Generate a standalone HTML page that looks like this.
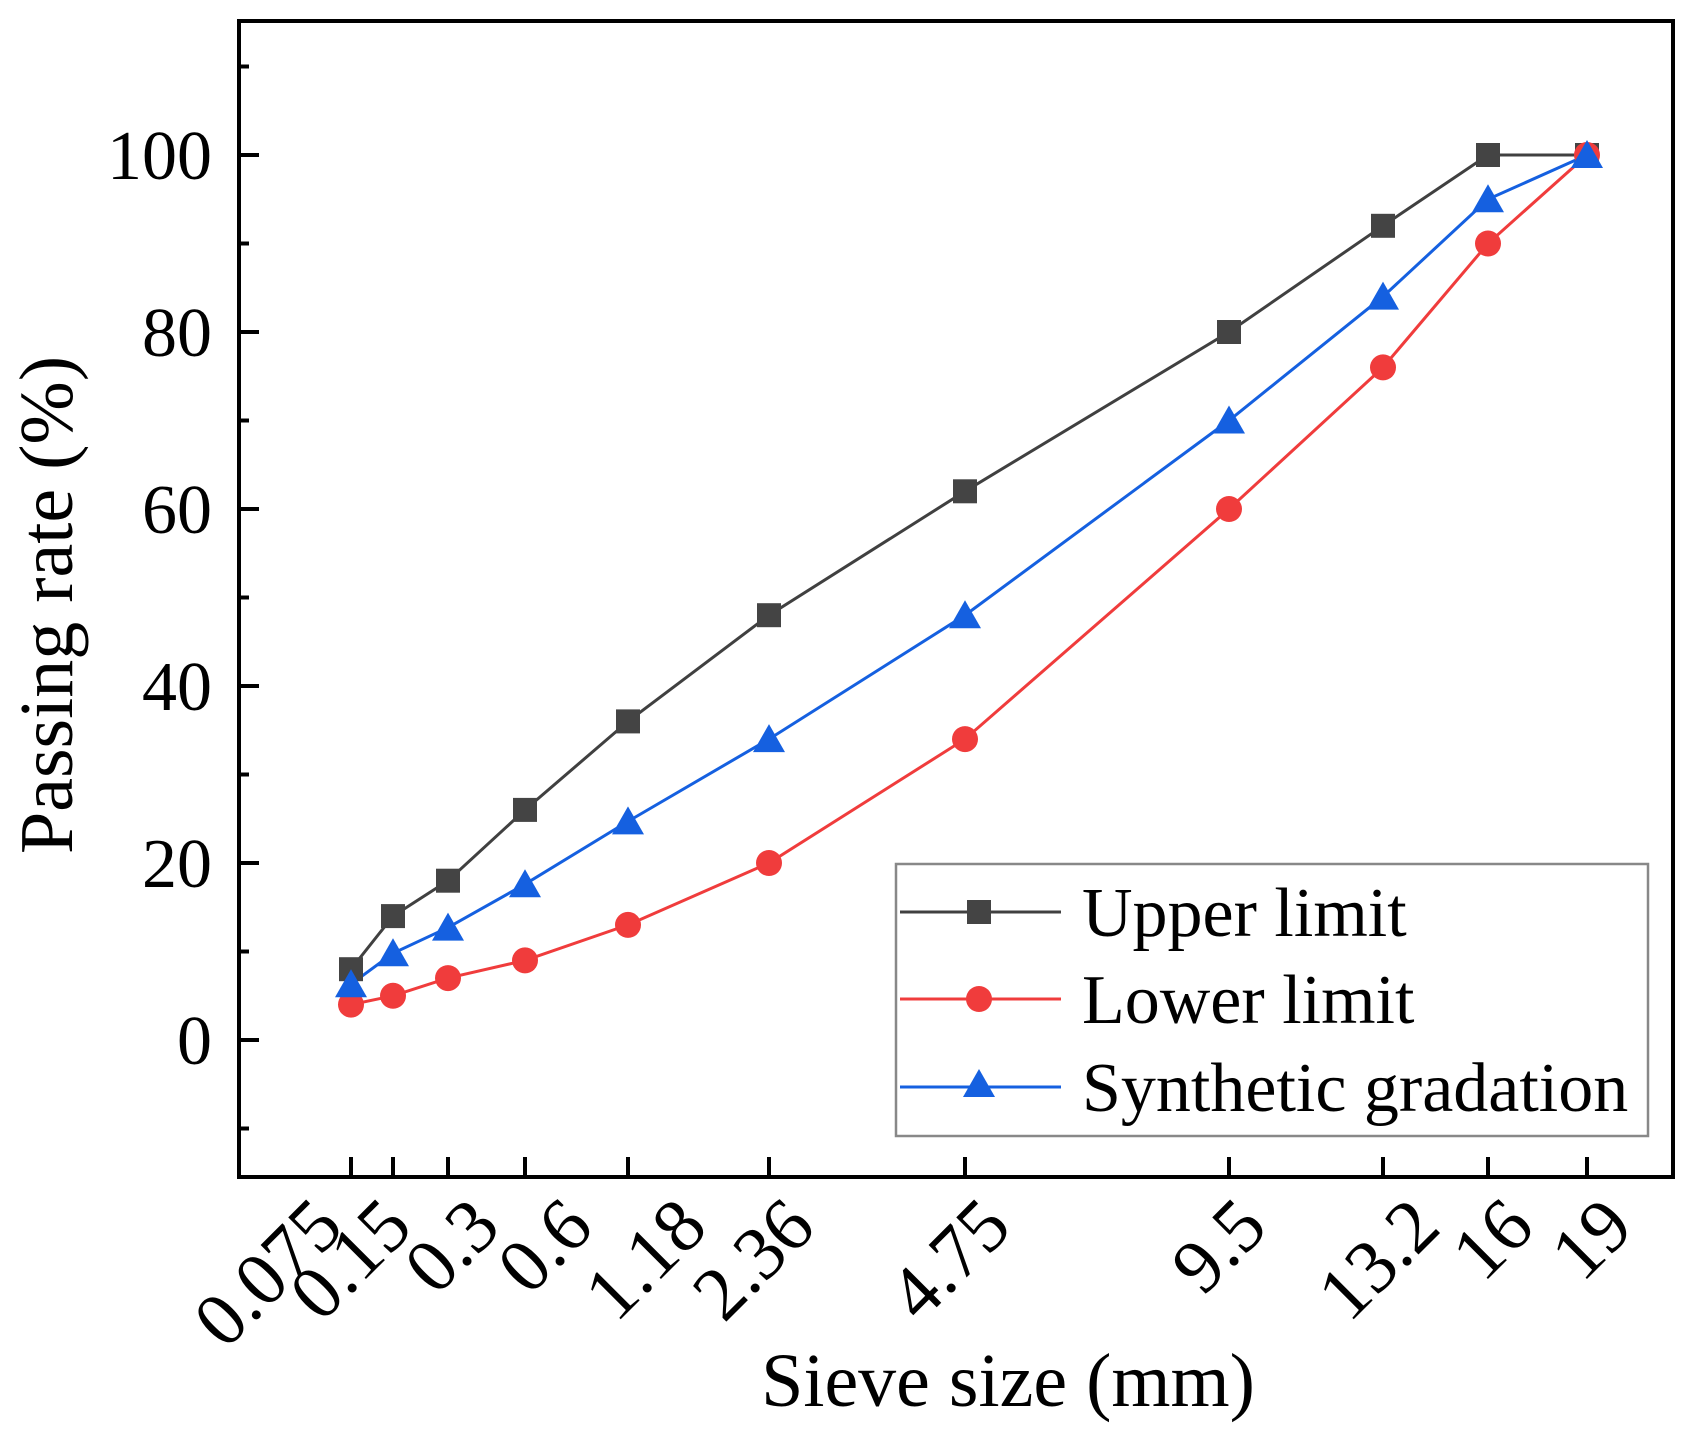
<!DOCTYPE html>
<html><head><meta charset="utf-8"><style>
html,body{margin:0;padding:0;background:#fff}
svg{display:block}
text{font-family:"Liberation Serif",serif;fill:#000}
</style></head><body>
<svg width="1700" height="1430" viewBox="0 0 1700 1430" xmlns="http://www.w3.org/2000/svg">
<rect width="1700" height="1430" fill="#fff"/>
<rect x="239" y="21" width="1434" height="1156" fill="none" stroke="#000" stroke-width="4"/>
<g stroke="#000" stroke-width="4">
<line x1="239" y1="1040" x2="259" y2="1040"/><line x1="239" y1="863" x2="259" y2="863"/>
<line x1="239" y1="686" x2="259" y2="686"/><line x1="239" y1="509" x2="259" y2="509"/>
<line x1="239" y1="332" x2="259" y2="332"/><line x1="239" y1="155" x2="259" y2="155"/>
<line x1="239" y1="1128.5" x2="249" y2="1128.5"/><line x1="239" y1="951.5" x2="249" y2="951.5"/>
<line x1="239" y1="774.5" x2="249" y2="774.5"/><line x1="239" y1="597.5" x2="249" y2="597.5"/>
<line x1="239" y1="420.5" x2="249" y2="420.5"/><line x1="239" y1="243.5" x2="249" y2="243.5"/>
<line x1="239" y1="66.5" x2="249" y2="66.5"/>
<line x1="351" y1="1177" x2="351" y2="1157"/><line x1="393" y1="1177" x2="393" y2="1157"/>
<line x1="448" y1="1177" x2="448" y2="1157"/><line x1="525" y1="1177" x2="525" y2="1157"/>
<line x1="628" y1="1177" x2="628" y2="1157"/><line x1="769" y1="1177" x2="769" y2="1157"/>
<line x1="965" y1="1177" x2="965" y2="1157"/><line x1="1229" y1="1177" x2="1229" y2="1157"/>
<line x1="1383" y1="1177" x2="1383" y2="1157"/><line x1="1488" y1="1177" x2="1488" y2="1157"/>
<line x1="1587" y1="1177" x2="1587" y2="1157"/>
</g>
<g font-size="70" text-anchor="end">
<text x="212" y="1064">0</text><text x="212" y="887">20</text><text x="212" y="710">40</text>
<text x="212" y="533">60</text><text x="212" y="356">80</text><text x="212" y="179">100</text>
</g>
<g font-size="76" text-anchor="end">
<text transform="translate(346,1230) rotate(-45)">0.075</text>
<text transform="translate(415,1230) rotate(-45)">0.15</text>
<text transform="translate(503,1230) rotate(-45)">0.3</text>
<text transform="translate(596,1230) rotate(-45)">0.6</text>
<text transform="translate(710,1230) rotate(-45)">1.18</text>
<text transform="translate(818,1230) rotate(-45)">2.36</text>
<text transform="translate(1014,1230) rotate(-45)">4.75</text>
<text transform="translate(1270,1230) rotate(-45)">9.5</text>
<text transform="translate(1443,1230) rotate(-45)">13.2</text>
<text transform="translate(1537,1230) rotate(-45)">16</text>
<text transform="translate(1636,1230) rotate(-45)">19</text>
</g>
<text x="1008" y="1406" font-size="76" text-anchor="middle">Sieve size (mm)</text>
<text transform="translate(72,605) rotate(-90)" font-size="76" text-anchor="middle">Passing rate (%)</text>
<polyline fill="none" stroke="#404040" stroke-width="3" points="351,969.2 393,916.1 448,880.7 525,809.9 628,721.4 769,615.2 965,491.3 1229,332 1383,225.8 1488,155 1587,155"/>
<polyline fill="none" stroke="#f03c3c" stroke-width="3" points="351,1004.6 393,995.8 448,978.1 525,960.4 628,924.9 769,863 965,739.1 1229,509 1383,367.4 1488,243.5 1587,155"/>
<polyline fill="none" stroke="#1560e0" stroke-width="3" points="351,984.2 393,953.3 448,927.6 525,884.2 628,821.4 769,739.1 965,615.2 1229,420.5 1383,296.6 1488,199.3 1587,155"/>
<g fill="#444">
<rect x="339" y="957.2" width="24" height="24"/><rect x="381" y="904.1" width="24" height="24"/>
<rect x="436" y="868.7" width="24" height="24"/><rect x="513" y="797.9" width="24" height="24"/>
<rect x="616" y="709.4" width="24" height="24"/><rect x="757" y="603.2" width="24" height="24"/>
<rect x="953" y="479.3" width="24" height="24"/><rect x="1217" y="320" width="24" height="24"/>
<rect x="1371" y="213.8" width="24" height="24"/><rect x="1476" y="143" width="24" height="24"/>
<rect x="1575" y="143" width="24" height="24"/>
</g>
<g fill="#f03c3c">
<circle cx="351" cy="1004.6" r="13"/><circle cx="393" cy="995.8" r="13"/><circle cx="448" cy="978.1" r="13"/>
<circle cx="525" cy="960.4" r="13"/><circle cx="628" cy="924.9" r="13"/><circle cx="769" cy="863" r="13"/>
<circle cx="965" cy="739.1" r="13"/><circle cx="1229" cy="509" r="13"/><circle cx="1383" cy="367.4" r="13"/>
<circle cx="1488" cy="243.5" r="13"/><circle cx="1587" cy="155" r="13"/>
</g>
<g fill="#1560e0">
<path d="M351,969.2 l16,28 h-32z"/><path d="M393,938.3 l16,28 h-32z"/><path d="M448,912.6 l16,28 h-32z"/>
<path d="M525,869.2 l16,28 h-32z"/><path d="M628,806.4 l16,28 h-32z"/><path d="M769,724.1 l16,28 h-32z"/>
<path d="M965,600.2 l16,28 h-32z"/><path d="M1229,405.5 l16,28 h-32z"/><path d="M1383,281.6 l16,28 h-32z"/>
<path d="M1488,184.3 l16,28 h-32z"/><path d="M1587,140 l16,28 h-32z"/>
</g>
<rect x="896" y="864" width="752" height="272" fill="#fff" stroke="#888" stroke-width="2.5"/>
<line x1="900" y1="912" x2="1061" y2="912" stroke="#404040" stroke-width="3"/>
<rect x="967" y="900" width="24" height="24" fill="#444"/>
<line x1="900" y1="999" x2="1061" y2="999" stroke="#f03c3c" stroke-width="3"/>
<circle cx="979" cy="999" r="13" fill="#f03c3c"/>
<line x1="900" y1="1087" x2="1061" y2="1087" stroke="#1560e0" stroke-width="3"/>
<path d="M979,1069 l16,28 h-32z" fill="#1560e0"/>
<g font-size="70">
<text x="1082" y="936">Upper limit</text>
<text x="1082" y="1023">Lower limit</text>
<text x="1082" y="1111">Synthetic gradation</text>
</g>
</svg>
</body></html>
